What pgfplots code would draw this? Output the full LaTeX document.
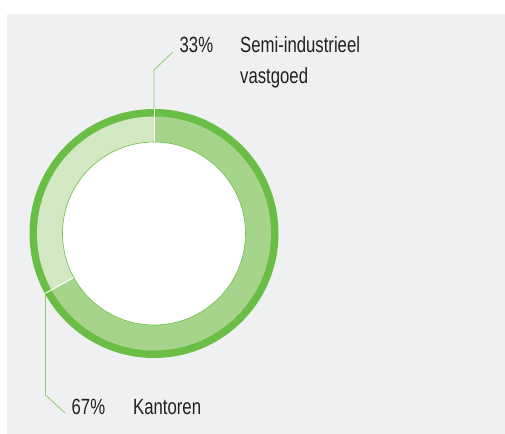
\documentclass[border=0pt]{standalone}
\usepackage{fontspec}
\setmainfont{Liberation Sans}[FakeStretch=0.76]
\usepackage{pgfplots}
\usepackage{pgfplotstable}
\pgfplotsset{compat=1.18}

\definecolor{bgray}{HTML}{EFF0F2}
\definecolor{ringdark}{HTML}{6BBE45}
\definecolor{segmid}{HTML}{A6D48A}
\definecolor{seglight}{HTML}{D2E8C3}
\definecolor{leader}{HTML}{8CCB6E}
\definecolor{txt}{HTML}{231F20}

\pgfplotstableread{
label value
Kantoren 67
Semi 33
}\piedata

\begin{document}
\begin{tikzpicture}
\pgfplotstablegetelem{0}{value}\of\piedata \let\vA\pgfplotsretval
\pgfplotstablegetelem{1}{value}\of\piedata \let\vB\pgfplotsretval
\pgfmathsetmacro{\aStart}{90}
\pgfmathsetmacro{\aMid}{90-\vA/(\vA+\vB)*360}
\pgfmathsetmacro{\aEnd}{\aMid-\vB/(\vA+\vB)*360}
\begin{axis}[width=505bp,height=434bp,scale only axis,
  xmin=0,xmax=505,ymin=0,ymax=434,hide axis,clip=false]
% page and panel
\fill[white] (axis cs:0,0) rectangle (axis cs:505,434);
\fill[bgray] (axis cs:7,0) rectangle (axis cs:505,420);
% donut
\fill[ringdark] (axis cs:154,200.5) circle[radius=124.5bp];
\fill[segmid] (axis cs:154,200.5) -- ++(\aStart:117bp) arc[start angle=\aStart,end angle=\aMid,radius=117bp] -- cycle;
\fill[seglight] (axis cs:154,200.5) -- ++(\aMid:117bp) arc[start angle=\aMid,end angle=\aEnd,radius=117bp] -- cycle;
\draw[white,line width=1pt] (axis cs:154,200.5) -- ++(\aStart:124.5bp);
\draw[white,line width=1pt] (axis cs:154,200.5) -- ++(\aMid:124.5bp);
\filldraw[fill=white,draw=ringdark,line width=0.6pt] (axis cs:154,200.5) circle[radius=91.5bp];
% leaders
\draw[leader,line width=0.8pt] (axis cs:154,326) -- (axis cs:154,364) -- (axis cs:173,382);
\draw[leader,line width=0.8pt] (axis cs:45.5,141) -- (axis cs:45.5,39) -- (axis cs:65,21);
% labels
\begin{scope}[every node/.style={inner sep=0pt,anchor=base west,text=txt,font=\fontsize{22bp}{26bp}\selectfont}]
\node at (axis cs:179.5,381) {\vB\%};
\node at (axis cs:240,381) {Semi-industrieel};
\node at (axis cs:240,350) {vastgoed};
\node at (axis cs:71.5,20) {\vA\%};
\node at (axis cs:133,20) {Kantoren};
\end{scope}
\end{axis}
\end{tikzpicture}
\end{document}
